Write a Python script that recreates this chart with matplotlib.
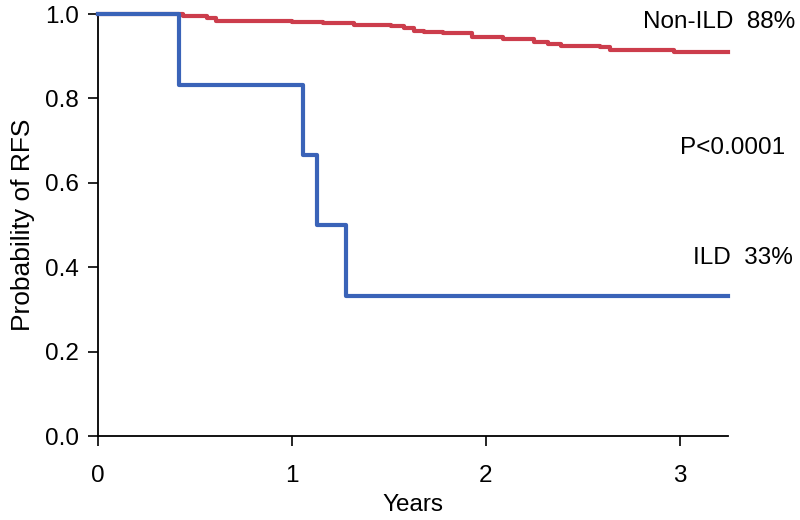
import matplotlib
matplotlib.use("Agg")
import matplotlib.pyplot as plt

plt.rcParams['font.family'] = ['Liberation Sans', 'DejaVu Sans']

# Kaplan-Meier steps
non_ild_t = [0, 0.44, 0.56, 0.61, 1.0, 1.16, 1.32, 1.51, 1.58, 1.63, 1.68, 1.78,
             1.93, 2.09, 2.22, 2.25, 2.32, 2.39, 2.59, 2.64, 2.97, 3.25]
non_ild_s = [1.0, 0.995, 0.99, 0.984, 0.98, 0.978, 0.975, 0.971, 0.968, 0.96, 0.958,
             0.954, 0.945, 0.942, 0.94, 0.934, 0.93, 0.924, 0.922, 0.915, 0.909, 0.909]

ild_t = [0, 0.42, 1.06, 1.13, 1.28, 3.25]
ild_s = [1.0, 0.833, 0.667, 0.5, 0.333, 0.333]

yticks = [0.0, 0.2, 0.4, 0.6, 0.8, 1.0]
xticks = [0, 1, 2, 3]

fig = plt.figure(figsize=(8, 5.2), dpi=100)
ax = fig.add_axes([0.1225, 0.1615, 0.7875, 0.8115])

ax.step(non_ild_t, non_ild_s, where='post', color='#cc3d4c', lw=3, clip_on=False, zorder=3)
ax.step(ild_t, ild_s, where='post', color='#3a63b8', lw=3, clip_on=False, zorder=4)

ax.set_xlim(0, 3.25)
ax.set_ylim(0, 1.0)
ax.set_xticks(xticks)
ax.set_yticks(yticks)
ax.set_yticklabels([f'{v:.1f}' for v in yticks])
ax.tick_params(labelsize=17.5, length=7, width=1.2, color='black', pad=7)
ax.tick_params(axis='x', pad=14)

for s in ['top', 'right']:
    ax.spines[s].set_visible(False)
for s in ['left', 'bottom']:
    ax.spines[s].set_linewidth(1.3)

ax.set_xlabel('Years', fontsize=17.5, labelpad=5)
ax.set_ylabel('Probability of RFS', fontsize=19, labelpad=7)

fig.text(795 / 800, 1 - 22 / 520, 'Non-ILD  88%', fontsize=17.5, ha='right', va='center')
fig.text(785 / 800, 1 - 148 / 520, 'P<0.0001', fontsize=17.5, ha='right', va='center')
fig.text(793 / 800, 1 - 258 / 520, 'ILD  33%', fontsize=17.5, ha='right', va='center')

fig.savefig('out.png', dpi=100)
